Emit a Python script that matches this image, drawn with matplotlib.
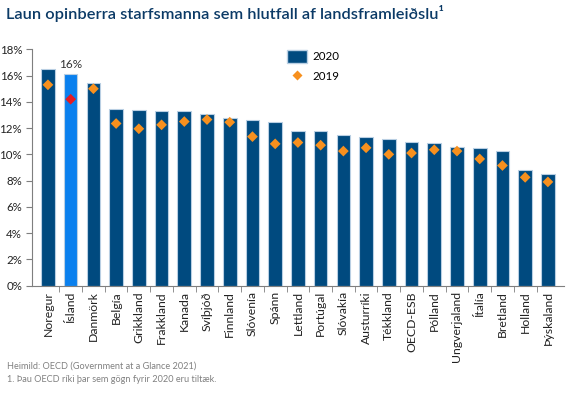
import numpy as np
import matplotlib
matplotlib.use('Agg')
import matplotlib.pyplot as plt
from matplotlib.ticker import FuncFormatter, FixedLocator
from matplotlib.lines import Line2D
from matplotlib.patches import Patch

countries = ['Noregur', 'Ísland', 'Danmörk', 'Belgía', 'Grikkland', 'Frakkland',
             'Kanada', 'Svíþjóð', 'Finnland', 'Slóvenía', 'Spánn', 'Lettland',
             'Portúgal', 'Slóvakía', 'Austurríki', 'Tékkland', 'OECD-ESB',
             'Pólland', 'Ungverjaland', 'Ítalía', 'Bretland', 'Holland', 'Þýskaland']
y2020 = [16.5, 16.1, 15.4, 13.45, 13.35, 13.3, 13.3, 13.05, 12.8, 12.65, 12.5, 11.8,
         11.75, 11.45, 11.35, 11.15, 10.95, 10.9, 10.55, 10.45, 10.25, 8.8, 8.5]
y2019 = [15.3, 14.2, 15.0, 12.35, 11.95, 12.25, 12.5, 12.65, 12.45, 11.35, 10.8, 10.9,
         10.7, 10.25, 10.5, 10.0, 10.1, 10.35, 10.25, 9.65, 9.15, 8.25, 7.9]
highlight = 'Ísland'

NAVY = '#004A7F'
LIGHT = '#0A80EE'
ORANGE = '#F7901E'
RED = '#E31B23'

plt.rcParams['font.family'] = ['Lato', 'DejaVu Sans']

fig = plt.figure(figsize=(5.68, 3.95), dpi=100)
ax = fig.add_axes([0.056, 0.277, 0.937, 0.598])

x = np.arange(len(countries))
bar_colors = [LIGHT if c == highlight else NAVY for c in countries]
dot_colors = [RED if c == highlight else ORANGE for c in countries]

ax.bar(x, y2020, width=0.6, color=bar_colors, edgecolor='#B9CFE3', linewidth=0.8, zorder=2)
ax.scatter(x, y2019, marker='D', s=30, c=dot_colors, edgecolors='none', zorder=3)

# label on the highlighted bar
i = countries.index(highlight)
ax.text(x[i], y2020[i] + 0.35, f'{y2020[i]:.0f}%', ha='center', va='bottom',
        fontsize=8.5, color='#333333')

ax.set_xlim(-0.71, len(countries) - 0.29)
ax.set_ylim(0, 18)
ax.set_yticks(np.arange(0, 19, 2))
ax.yaxis.set_major_formatter(FuncFormatter(lambda v, p: f'{v:.0f}%'))
ax.set_xticks(x)
ax.set_xticklabels(countries, rotation=90, fontsize=8.8, color='#222222')
ax.tick_params(axis='x', length=0, pad=4)
ax.xaxis.set_minor_locator(FixedLocator(x[:-1] + 0.5))
ax.tick_params(axis='x', which='minor', length=4, color='#7f7f7f')
ax.tick_params(axis='y', labelsize=8.3, length=4, color='#7f7f7f', labelcolor='#222222', pad=3)

for s in ['top', 'right']:
    ax.spines[s].set_visible(False)
for s in ['left', 'bottom']:
    ax.spines[s].set_color('#7f7f7f')
    ax.spines[s].set_linewidth(0.8)

handles = [Patch(facecolor=NAVY, edgecolor='#B9CFE3', label='2020'),
           Line2D([], [], marker='D', color='none', markerfacecolor=ORANGE,
                  markeredgecolor='none', markersize=5.5, label='2019')]
leg = ax.legend(handles=handles, loc='upper left', bbox_to_anchor=(0.46, 1.04),
                frameon=False, fontsize=8.3, handlelength=1.7, handleheight=1.3,
                labelspacing=0.6, handletextpad=0.5)

fig.text(0.01, 0.965, 'Laun opinberra starfsmanna sem hlutfall af landsframleiðslu\u00b9',
         fontsize=11.8, color='#0B3A66', ha='left', va='center', fontweight='semibold')
fig.text(0.012, 0.072, 'Heimild: OECD (Government at a Glance 2021)', fontsize=6.6,
         color='#808080', ha='left', va='center')
fig.text(0.012, 0.038, '1. Þau OECD ríki þar sem gögn fyrir 2020 eru tiltæk.', fontsize=6.6,
         color='#808080', ha='left', va='center')

fig.savefig('out.png', dpi=100)
